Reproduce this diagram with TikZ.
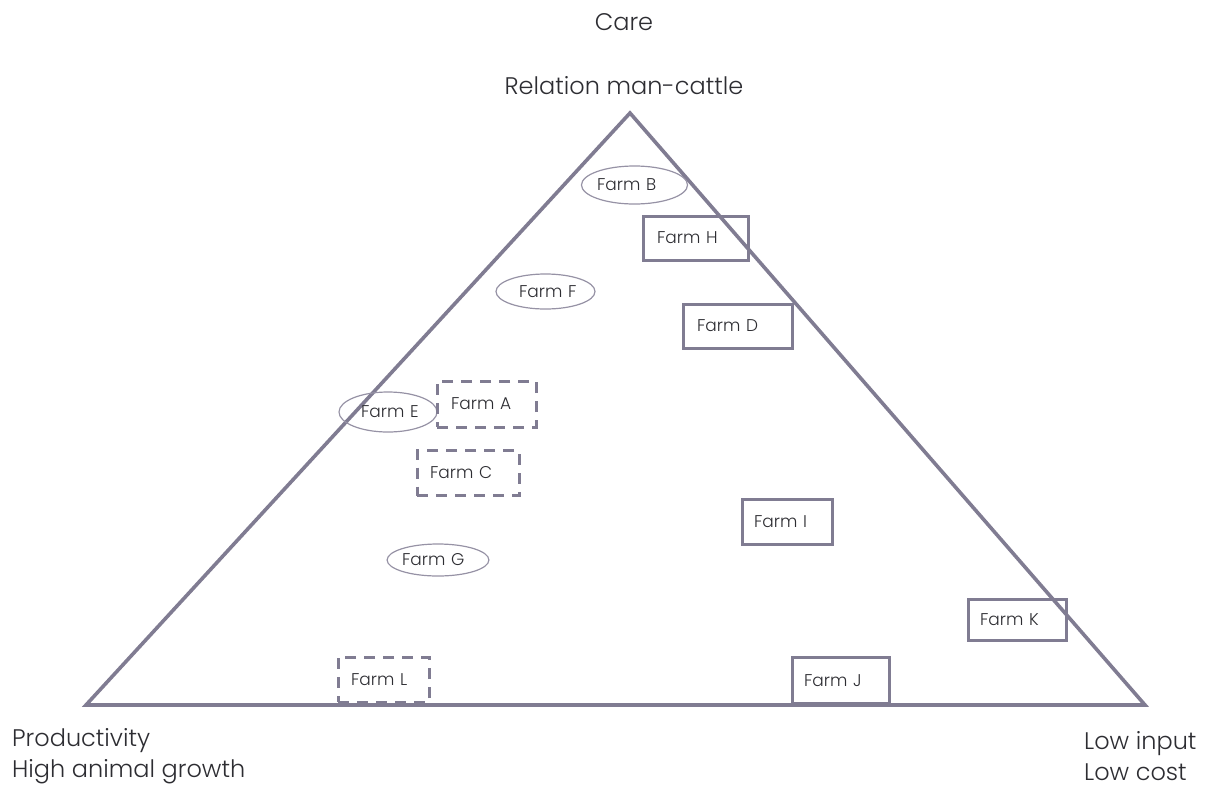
\documentclass[tikz,border=0pt]{standalone}
\usepackage{fontspec}
\setmainfont{Poppins Light}
\usetikzlibrary{shapes.geometric}
\definecolor{edge}{RGB}{128,124,146}
\definecolor{oval}{RGB}{150,146,165}
\definecolor{ink}{RGB}{45,45,50}
\tikzset{
  axis/.style={draw=edge, line width=3.6pt, line join=miter},
  farmrect/.style={draw=edge, line width=3pt, rectangle, align=left,
    text=ink, font=\fontsize{17}{20}\selectfont, inner sep=0pt},
  farmdash/.style={farmrect, dash pattern=on 11pt off 8pt},
  farmoval/.style={draw=oval, line width=1.2pt, ellipse, align=left,
    text=ink, font=\fontsize{17}{20}\selectfont, inner sep=0pt},
  caption/.style={text=ink, font=\fontsize{24}{31}\selectfont, inner sep=0pt}
}
\begin{document}
\begin{tikzpicture}[x=1pt, y=-1pt]
  \useasboundingbox (0,0) rectangle (1207,785);

  % corners of the triangle
  \coordinate (top) at (630,113);
  \coordinate (left) at (86,705);
  \coordinate (right) at (1145,705);
  \draw[axis] (top) -- (left) -- (right) -- cycle;

  % pole labels
  \node[caption] (care) at (624,22) {Care};
  \node[caption] (relation) at (624,86) {Relation man-cattle};
  \node[caption, anchor=west, align=left] (prod) at (12,756) {Productivity\\High animal growth};
  \node[caption, anchor=west, align=left] (low) at (1084,756) {Low input\\Low cost};

  % farms drawn as ovals
  \node[farmoval, minimum width=99pt, minimum height=38pt, text width=75pt] (fb) at (634.5,185) {Farm~B};
  \node[farmoval, minimum width=99pt, minimum height=35pt, text width=53pt] (ff) at (545.5,291.5) {Farm~F};
  \node[farmoval, minimum width=98pt, minimum height=40pt, text width=54pt] (fe) at (388,412) {Farm~E};
  \node[farmoval, minimum width=100pt, minimum height=32pt, text width=72pt] (fg) at (438,560) {Farm~G};

  % farms drawn as solid boxes
  \node[farmrect, minimum width=105pt, minimum height=44pt, text width=77pt] (fh) at (695.5,238) {Farm~H};
  \node[farmrect, minimum width=109pt, minimum height=44pt, text width=81pt] (fd) at (737.5,326) {Farm~D};
  \node[farmrect, minimum width=90pt, minimum height=45pt, text width=66pt] (fi) at (787,522) {Farm~I};
  \node[farmrect, minimum width=98pt, minimum height=41pt, text width=74pt] (fk) at (1017,619.5) {Farm~K};
  \node[farmrect, minimum width=97pt, minimum height=46pt, text width=73pt] (fj) at (840.5,680.5) {Farm~J};

  % farms drawn as dashed boxes
  \node[farmdash, minimum width=99pt, minimum height=46pt, text width=71pt] (fa) at (486.5,404) {Farm~A};
  \node[farmdash, minimum width=102pt, minimum height=45pt, text width=76pt] (fc) at (468,473) {Farm~C};
  \node[farmdash, minimum width=91pt, minimum height=45pt, text width=65pt] (fl) at (383.5,679.5) {Farm~L};
\end{tikzpicture}
\end{document}
